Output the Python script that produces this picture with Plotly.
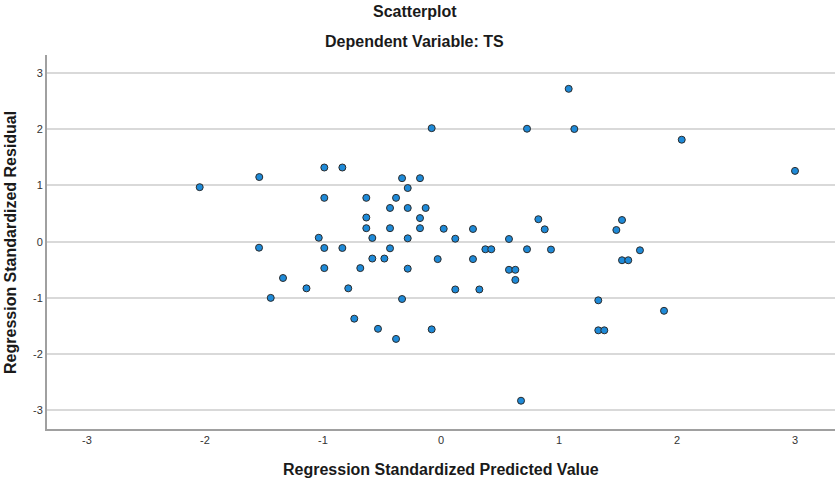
import plotly.graph_objects as go

pred = [-2.045, -1.54, 1.082, -0.079, 0.729, 1.13, -0.989, -0.836, -0.33, -0.178,
        -0.282, -0.989, -0.633, -0.381, -0.432, -0.282, -0.13, -0.633, -0.178, 0.825,
        -0.633, -0.432, -0.178, 0.023, 0.271, 0.879, -1.036, -0.582, -0.282, 0.121,
        0.576, -0.989, -0.836, -0.432, 0.376, 0.426, 0.729, 0.932, -0.582, -0.48,
        -0.028, 0.271, -0.989, -0.684, -0.282, 0.576, 0.63, 0.63, -1.14, -0.786,
        0.121, 0.325, -0.33, -0.735, -0.534, -0.079, -0.381, 0.678, -1.542, -1.339,
        -1.443, 2.04, 3.0, 1.534, 1.486, 1.686, 1.534, 1.587, 1.333, 1.89,
        1.333, 1.384]
resid = [0.97, 1.15, 2.72, 2.02, 2.01, 2.005, 1.32, 1.32, 1.13, 1.13,
         0.955, 0.78, 0.78, 0.78, 0.60, 0.60, 0.60, 0.43, 0.42, 0.40,
         0.24, 0.24, 0.24, 0.23, 0.226, 0.22, 0.07, 0.066, 0.06, 0.053,
         0.048, -0.112, -0.112, -0.118, -0.135, -0.135, -0.135, -0.14, -0.30, -0.30,
         -0.31, -0.31, -0.47, -0.47, -0.48, -0.50, -0.50, -0.68, -0.83, -0.83,
         -0.85, -0.85, -1.02, -1.37, -1.55, -1.56, -1.73, -2.83, -0.107, -0.646,
         -1.0, 1.815, 1.26, 0.386, 0.208, -0.153, -0.33, -0.33, -1.043, -1.23,
         -1.577, -1.577]
tick_vals = [-3, -2, -1, 0, 1, 2, 3]
tick_text = ["-3", "-2", "-1", "0", "1", "2", "3"]

FONT = "Liberation Sans, Arial, sans-serif"

fig = go.Figure(go.Scatter(
    x=pred, y=resid, mode="markers",
    marker=dict(size=7, color="#1e8ad8", line=dict(color="#2b2b2b", width=1)),
    hoverinfo="x+y"))

fig.update_layout(
    width=836, height=483,
    margin=dict(l=47, r=1, t=55, b=54),
    paper_bgcolor="white", plot_bgcolor="white",
    font=dict(family=FONT, color="#333333"),
    showlegend=False,
    xaxis=dict(range=[-3.339, 3.339], tickvals=tick_vals, ticktext=tick_text,
               showgrid=False, zeroline=False, showline=True, linecolor="#a0a0a0",
               linewidth=2, ticks="", ticklen=0,
               tickfont=dict(size=11, color="#333333"), automargin=False),
    yaxis=dict(range=[-3.333, 3.322], tickvals=tick_vals, ticktext=tick_text,
               showgrid=True, gridcolor="#d9d9d9", gridwidth=1.5, zeroline=False,
               showline=True, linecolor="#a0a0a0", linewidth=2, ticks="",
               tickfont=dict(size=11, color="#333333"), automargin=False),
    annotations=[
        dict(text="<b>Scatterplot</b>", xref="paper", yref="paper", x=0.467, y=1.115,
             showarrow=False, font=dict(size=16, color="#1a1a1a"), yanchor="middle"),
        dict(text="<b>Dependent Variable: TS</b>", xref="paper", yref="paper", x=0.467, y=1.035,
             showarrow=False, font=dict(size=16, color="#1a1a1a"), yanchor="middle"),
        dict(text="<b>Regression Standardized Predicted Value</b>", xref="paper", yref="paper",
             x=0.5, y=-0.107, showarrow=False, font=dict(size=16, color="#1a1a1a"),
             yanchor="middle"),
        dict(text="<b>Regression Standardized Residual</b>", xref="paper", yref="paper",
             x=-0.047, y=0.5, showarrow=False, textangle=-90,
             font=dict(size=16, color="#1a1a1a"), xanchor="center", yanchor="middle"),
    ],
)

fig.write_html("out.html")
